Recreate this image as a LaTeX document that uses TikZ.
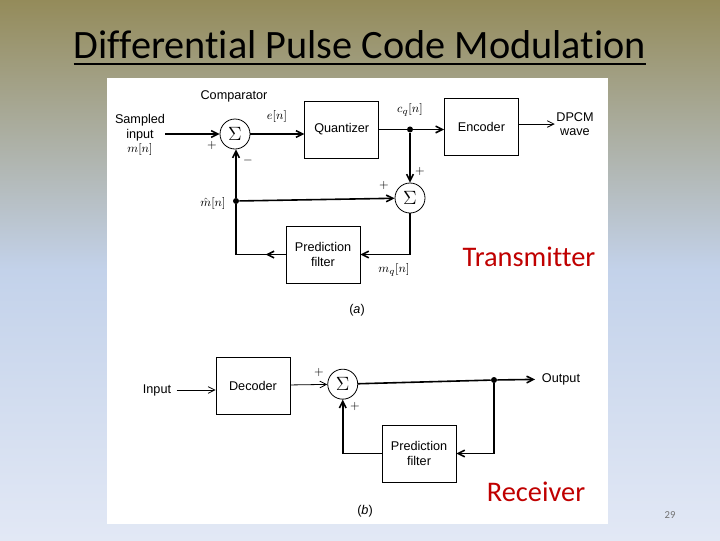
\documentclass[tikz,border=0pt]{standalone}
\usepackage{fontspec}
\setmainfont{Liberation Sans}
\newfontfamily\slidefont[Ligatures=NoCommon]{Carlito}
\usetikzlibrary{arrows.meta, positioning}
\definecolor{olivetop}{HTML}{948B5A}
\definecolor{bluemid}{HTML}{C3D2EA}
\definecolor{palelow}{HTML}{E2E8F5}
\definecolor{redlabel}{HTML}{C00000}

\begin{document}
\begin{tikzpicture}[
    x=0.75pt, y=-0.75pt,
    every node/.style={font=\fontsize{9.5}{10.8}\selectfont},
    block/.style={rectangle, draw, line width=0.5pt, minimum width=55.5pt, minimum height=42.75pt, align=center, inner sep=0pt},
    sumnode/.style={circle, draw, line width=0.6pt, minimum size=22.5pt, inner sep=0pt, font=\fontsize{15}{15}\selectfont},
    junction/.style={circle, fill=black, minimum size=4.5pt, inner sep=0pt},
    tag/.style={inner sep=0pt, align=center},
    slidered/.style={inner sep=0pt, text=redlabel, font=\slidefont\fontsize{21.3}{24}\selectfont},
    wire/.style={draw, line width=1.2pt},
    line/.style={draw, line width=1.2pt, -{Straight Barb[length=5pt, width=5pt]}},
    thinline/.style={draw, line width=0.6pt, -{Straight Barb[length=5pt, width=5pt]}}
]
    % slide background
    \useasboundingbox (0,0) rectangle (720,540);
    \shade[top color=olivetop, bottom color=bluemid] (0,0) rectangle (720,270);
    \shade[top color=bluemid, bottom color=palelow] (0,270) rectangle (720,540);
    \fill[white] (107,78) rectangle (608,524);

    \node [inner sep=0pt, font=\slidefont\fontsize{30.2}{36}\selectfont] (title) at (360,45) {Differential Pulse Code Modulation};
    \draw [line width=1.5pt] ([yshift=-4pt]title.base west) -- ([yshift=-4pt]title.base east);

    % transmitter
    \node [sumnode] (sumtx) at (235,134) {$\Sigma$};
    \node [block, right=40.5pt of sumtx, yshift=3.4pt] (quant) {Quantizer};
    \node [block, right=48.75pt of quant, yshift=2.25pt] (encoder) {Encoder};
    \node [sumnode] (sumq) at (410,198) {$\Sigma$};
    \node [block] (predtx) at (323,254.5) {Prediction\\filter};
    \node [junction] (jq) at (sumq |- quant) {};
    \node [junction] (jm) at (236,201) {};

    \node [tag] (input) at (140,135) {Sampled\\input\\$m[n]$};
    \node [tag] (dpcm) at (575,124) {DPCM\\wave};
    \node [tag] (comparator) at (234,96) {Comparator};
    \node [tag] (en) at (277,116) {$e[n]$};
    \node [tag] (cq) at (410,110) {$c_q[n]$};
    \node [tag] (mhat) at (213,203) {$\hat{m}[n]$};
    \node [tag] (mq) at (394,270) {$m_q[n]$};
    \node [tag] (plusa) at (212,145) {$+$};
    \node [tag] (minusa) at (248,160) {$-$};
    \node [tag] (plusb) at (420,171) {$+$};
    \node [tag] (plusc) at (384,185) {$+$};
    \node [tag] (capa) at (357,310) {(\textit{a})};
    \node [slidered] (transmitter) at (529,257) {Transmitter};

    \path [line] (input.east |- sumtx) -- (sumtx);
    \path [line] (sumtx) -- (sumtx -| quant.west);
    \path [wire] (quant) -- (jq);
    \path [line] (jq) -- (jq -| encoder.west);
    \path [line] (jq) -- (sumq);
    \path [thinline, shorten >=1pt] (encoder.east |- dpcm) -- (dpcm);
    \path [line] (jm) -- (sumq);
    \path [line] (jm) -- (jm |- sumtx.south);
    \path [line] (sumq) |- (predtx);
    \path [wire] (predtx) -| (jm);
    \path [line] (predtx.west) -- ++(-20,0);

    % receiver
    \node [block] (decoder) at (253,385.5) {Decoder};
    \node [sumnode, right=27.75pt of decoder, yshift=1pt] (sumrx) {$\Sigma$};
    \node [block] (predrx) at (419,453.5) {Prediction\\filter};
    \node [junction] (jout) at (494,380) {};

    \node [tag] (inrx) at (157,390) {Input};
    \node [tag] (output) at (561,379) {Output};
    \node [tag] (plusd) at (319,372) {$+$};
    \node [tag] (pluse) at (355,406) {$+$};
    \node [tag] (capb) at (365,511) {(\textit{b})};
    \node [slidered] (receiver) at (536,492) {Receiver};
    \node [tag, text=black!55, font=\slidefont\fontsize{8}{10}\selectfont] (pagenum) at (670,515) {29};

    \path [thinline, shorten <=4pt] (inrx) -- (inrx -| decoder.west);
    \path [thinline] (decoder) -- (sumrx);
    \path [wire] (sumrx) -- (jout);
    \path [line, shorten >=5pt] (jout) -- (output);
    \path [line] (jout) |- (predrx);
    \path [line] (predrx) -| (sumrx);
\end{tikzpicture}
\end{document}
